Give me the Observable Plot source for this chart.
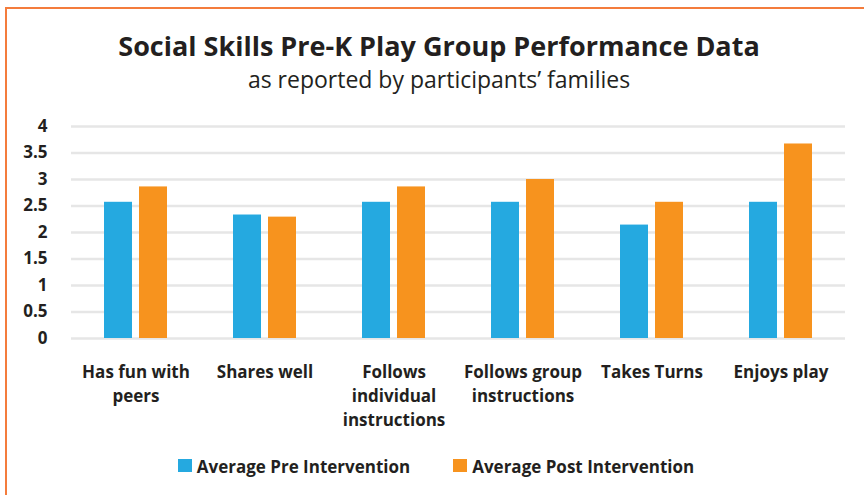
<!DOCTYPE html>
<html>
<head>
<meta charset="utf-8">
<script src="https://cdn.jsdelivr.net/npm/d3@7"></script>
<script src="https://cdn.jsdelivr.net/npm/@observablehq/plot@0.6"></script>
<style>
  html, body { margin: 0; padding: 0; background: #fff; }
  body { width: 864px; height: 495px; position: relative; overflow: hidden; font-family: "Open Sans", Lato, sans-serif; color: #231F20; }
  #frame { position: absolute; left: 5px; top: 7px; width: 900px; height: 520px; border-top: 2px solid #F47C3C; border-left: 2px solid #F47C3C; }
  #title { position: absolute; left: 0; width: 878px; top: 30px; text-align: center; font-weight: 700; font-size: 27px; line-height: 32px; white-space: nowrap; }
  #subtitle { position: absolute; left: 0; width: 878px; top: 65px; text-align: center; font-weight: 400; font-size: 23px; line-height: 28px; white-space: nowrap; }
  #chart { position: absolute; left: 0; top: 110px; }
  #legend { position: absolute; left: 0; width: 872px; top: 455px; display: flex; justify-content: center; gap: 43px; font-weight: 700; font-size: 17px; line-height: 24px; white-space: nowrap; }
  .item { display: flex; align-items: center; }
  .sw { width: 14px; height: 13px; margin-right: 5px; margin-top: -4px; }
</style>
</head>
<body>
<div id="frame"></div>
<div id="title">Social Skills Pre-K Play Group Performance Data</div>
<div id="subtitle">as reported by participants’ families</div>
<div id="chart"></div>
<div id="legend"></div>
<script>
const categories = ["Has fun with peers", "Shares well", "Follows individual instructions", "Follows group instructions", "Takes Turns", "Enjoys play"];
const tickLabels = ["Has fun with\npeers", "Shares well", "Follows\nindividual\ninstructions", "Follows group\ninstructions", "Takes Turns", "Enjoys play"];
const seriesNames = ["Average Pre Intervention", "Average Post Intervention"];
const preValues = [2.57, 2.33, 2.57, 2.57, 2.14, 2.57];
const postValues = [2.86, 2.29, 2.86, 3.0, 2.57, 3.67];
const colors = ["#25A9E0", "#F7931E"];
const yTicks = [0, 0.5, 1, 1.5, 2, 2.5, 3, 3.5, 4];

const data = [];
categories.forEach((c, i) => {
  data.push({category: c, series: seriesNames[0], value: preValues[i]});
  data.push({category: c, series: seriesNames[1], value: postValues[i]});
});
const labelOf = new Map(categories.map((c, i) => [c, tickLabels[i]]));

const chart = Plot.plot({
  width: 864,
  height: 320,
  marginTop: 16,
  marginBottom: 92,
  marginLeft: 68,
  marginRight: 17,
  style: {fontFamily: "'Open Sans', Lato, sans-serif", fontSize: "17px", fontWeight: "700", color: "#231F20", background: "transparent"},
  fx: {domain: categories, padding: 0, label: null},
  x: {domain: seriesNames, axis: null, paddingInner: 0.2, paddingOuter: 0.9},
  y: {domain: [0, 4], label: null},
  color: {domain: seriesNames, range: colors},
  marks: [
    Plot.gridY(yTicks, {stroke: "#E6E6E6", strokeOpacity: 1, strokeWidth: 2.3}),
    Plot.barY(data, {fx: "category", x: "series", y: "value", fill: "series"}),
    Plot.axisY(yTicks, {tickSize: 0, tickPadding: 24, tickFormat: d => String(d), label: null, fontSize: 17}),
    Plot.axisFx({anchor: "bottom", tickSize: 0, tickPadding: 22, tickFormat: d => labelOf.get(d), label: null, lineHeight: 1.43, fontSize: 17})
  ]
});
document.getElementById("chart").appendChild(chart);

const legend = document.getElementById("legend");
seriesNames.forEach((s, i) => {
  const item = document.createElement("div");
  item.className = "item";
  const sw = document.createElement("span");
  sw.className = "sw";
  sw.style.background = colors[i];
  const t = document.createElement("span");
  t.textContent = s;
  item.appendChild(sw);
  item.appendChild(t);
  legend.appendChild(item);
});
</script>
</body>
</html>
